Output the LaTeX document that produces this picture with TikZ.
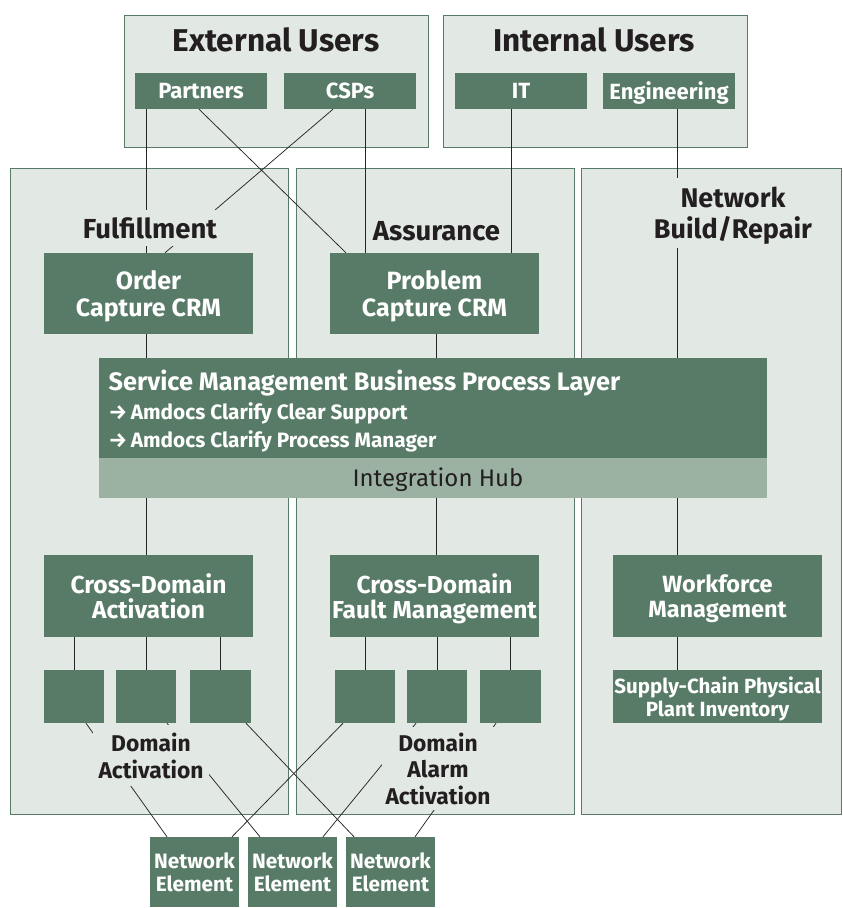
\documentclass[tikz,border=0pt]{standalone}
\usepackage{fontspec}
\setmainfont{Fira Sans}
\definecolor{boxg}{RGB}{88,123,103}
\definecolor{panelf}{RGB}{226,232,228}
\definecolor{hubf}{RGB}{155,178,163}
\definecolor{ink}{RGB}{35,31,32}
\begin{document}
\begin{tikzpicture}[x=1pt,y=-1pt,
  panel/.style={draw=boxg, line width=0.9pt, fill=panelf, inner sep=0pt},
  gbox/.style={fill=boxg, text=white, inner sep=0pt, align=center, text depth=0pt,
    font=\bfseries\fontsize{22}{26}\selectfont},
  title/.style={text=ink, inner sep=0pt, font=\bfseries\fontsize{31.5}{34}\selectfont},
  lbl/.style={fill=panelf, text=ink, inner xsep=5pt, inner ysep=8pt, align=center, text depth=0pt,
    font=\bfseries\fontsize{27.5}{31}\selectfont},
  conn/.style={draw=black!85, line width=0.75pt},
  wtext/.style={text=white, inner sep=0pt},
]
\useasboundingbox (0,0) rectangle (843,908);

% panels
\node[panel, minimum width=304pt, minimum height=132pt] (extP) at (276,81) {};
\node[panel, minimum width=304pt, minimum height=132pt] (intP) at (595,81) {};
\node[panel, minimum width=278pt, minimum height=646pt] (fulP) at (149.5,491) {};
\node[panel, minimum width=278pt, minimum height=646pt] (assP) at (435,491) {};
\node[panel, minimum width=260pt, minimum height=646pt] (nbP) at (711.5,491) {};

% titles
\node[title, anchor=base] (extT) at (276,51) {External Users};
\node[title, anchor=base] (intT) at (594,51) {Internal Users};

% user boxes
\node[gbox, minimum width=132pt, minimum height=36pt, font=\bfseries\fontsize{22}{24}\selectfont] (partners) at (201,91) {Partners};
\node[gbox, minimum width=132pt, minimum height=36pt, font=\bfseries\fontsize{22}{24}\selectfont] (csps) at (350,91) {CSPs};
\node[gbox, minimum width=132pt, minimum height=36pt, font=\bfseries\fontsize{22}{24}\selectfont] (it) at (521,91) {IT};
\node[gbox, minimum width=132pt, minimum height=36pt, font=\bfseries\fontsize{22}{24}\selectfont] (eng) at (669,91) {Engineering};

% main boxes
\node[gbox, minimum width=209pt, minimum height=81pt, font=\bfseries\fontsize{25}{27}\selectfont] (order) at (148.5,293.5) {Order\\Capture CRM};
\node[gbox, minimum width=209pt, minimum height=81pt, font=\bfseries\fontsize{25}{27}\selectfont] (problem) at (434.5,293.5) {Problem\\Capture CRM};
\node[gbox, minimum width=668pt, minimum height=100pt] (smbpl) at (433,408) {};
\node[fill=hubf, inner sep=0pt, minimum width=668pt, minimum height=40pt] (hub) at (433,478) {};
\node[gbox, minimum width=209pt, minimum height=82pt, font=\bfseries\fontsize{24.5}{25.5}\selectfont] (cda) at (148.5,596) {Cross-Domain\\Activation};
\node[gbox, minimum width=209pt, minimum height=82pt, font=\bfseries\fontsize{24.5}{25.5}\selectfont] (cdfm) at (434.5,596) {Cross-Domain\\Fault Management};
\node[gbox, minimum width=209pt, minimum height=82pt, font=\bfseries\fontsize{23.5}{25.5}\selectfont] (wm) at (717.5,596) {Workforce\\Management};
\node[gbox, minimum width=209pt, minimum height=53pt, font=\bfseries\fontsize{20.5}{23.5}\selectfont] (sc) at (717.5,696.5) {Supply-Chain Physical\\Plant Inventory};

% small domain boxes
\node[gbox, minimum width=60pt, minimum height=53pt] (sa1) at (74,696.5) {};
\node[gbox, minimum width=60pt, minimum height=53pt] (sa2) at (146,696.5) {};
\node[gbox, minimum width=61pt, minimum height=53pt] (sa3) at (220.5,696.5) {};
\node[gbox, minimum width=60pt, minimum height=53pt] (sb1) at (365,696.5) {};
\node[gbox, minimum width=60pt, minimum height=53pt] (sb2) at (437,696.5) {};
\node[gbox, minimum width=61pt, minimum height=53pt] (sb3) at (510.5,696.5) {};

% network elements
\node[gbox, minimum width=89pt, minimum height=70pt, font=\bfseries\fontsize{20.8}{23}\selectfont] (ne1) at (194.5,872) {Network\\Element};
\node[gbox, minimum width=89pt, minimum height=70pt, font=\bfseries\fontsize{20.8}{23}\selectfont] (ne2) at (292.5,872) {Network\\Element};
\node[gbox, minimum width=89pt, minimum height=70pt, font=\bfseries\fontsize{20.8}{23}\selectfont] (ne3) at (390.5,872) {Network\\Element};

% SMBPL and hub text
\node[wtext, anchor=base west, font=\bfseries\fontsize{25.3}{28}\selectfont] (smT) at (108.5,390) {Service Management Business Process Layer};
\node[wtext, anchor=base west, font=\bfseries\fontsize{20.8}{24}\selectfont] (smA) at (108.5,419) {→\,Amdocs Clarify Clear Support};
\node[wtext, anchor=base west, font=\bfseries\fontsize{20.8}{24}\selectfont] (smB) at (108.5,447) {→\,Amdocs Clarify Process Manager};
\node[text=ink, inner sep=0pt, anchor=base, font=\fontsize{24}{26}\selectfont] (hubT) at (438,486) {Integration Hub};

% column coordinates
\coordinate (c146) at (146,0);
\coordinate (c365) at (365,0);
\coordinate (c511) at (511,0);
\coordinate (c436) at (436,0);
\coordinate (c677) at (677,0);
\coordinate (x199) at (199,0);
\coordinate (x346) at (346,0);
\coordinate (x333) at (333,0);
\coordinate (x165) at (165,0);
\coordinate (x86) at (86,0);
\coordinate (x167) at (167,0);
\coordinate (x260) at (260,0);
\coordinate (x246) at (246,0);
\coordinate (x354) at (354,0);
\coordinate (x343) at (343,0);
\coordinate (x232) at (232,0);
\coordinate (x416) at (416,0);
\coordinate (x323) at (323,0);
\coordinate (x496) at (496,0);
\coordinate (x415) at (415,0);

% connectors
\draw[conn] (partners.south -| c146) -- (order.north -| c146);
\draw[conn] (csps.south -| c365) -- (problem.north -| c365);
\draw[conn] (it.south -| c511) -- (problem.north -| c511);
\draw[conn] (eng.south -| c677) -- (smbpl.north -| c677);
\draw[conn] (order.south -| c146) -- (smbpl.north -| c146);
\draw[conn] (problem.south -| c436) -- (smbpl.north -| c436);
\draw[conn] (hub.south -| c146) -- (cda.north -| c146);
\draw[conn] (hub.south -| c436) -- (cdfm.north -| c436);
\draw[conn] (hub.south -| c677) -- (wm.north -| c677);
\draw[conn] (wm.south -| c677) -- (sc.north -| c677);
\draw[conn] (cda.south -| sa1) -- (sa1.north);
\draw[conn] (cda.south -| sa2) -- (sa2.north);
\draw[conn] (cda.south -| sa3) -- (sa3.north);
\draw[conn] (cdfm.south -| sb1) -- (sb1.north);
\draw[conn] (cdfm.south -| sb2) -- (sb2.north);
\draw[conn] (cdfm.south -| sb3) -- (sb3.north);

\draw[conn] (partners.south -| x199) -- (problem.north -| x346);
\draw[conn] (csps.south -| x333) -- (order.north -| x165);
\draw[conn] (sa1.south -| x86) -- (ne1.north -| x167);
\draw[conn] (sa2.south -| x167) -- (ne2.north -| x260);
\draw[conn] (sa3.south -| x246) -- (ne3.north -| x354);
\draw[conn] (sb1.south -| x343) -- (ne1.north -| x232);
\draw[conn] (sb2.south -| x416) -- (ne2.north -| x323);
\draw[conn] (sb3.south -| x496) -- (ne3.north -| x415);

% section labels (break the lines)
\node[lbl] (fulL) at (150,228) {Fulfillment};
\node[lbl, inner xsep=3pt] (assL) at (436.5,231) {Assurance};
\node[lbl, inner ysep=9pt, font=\bfseries\fontsize{27}{31}\selectfont] (nbL) at (733,213) {Network\\Build/Repair};
\node[lbl, inner xsep=6pt, font=\bfseries\fontsize{22.8}{27}\selectfont] (daL) at (151,755.5) {Domain\\Activation};
\node[lbl, inner xsep=4pt, inner ysep=6pt, font=\bfseries\fontsize{22.8}{26.5}\selectfont] (dalL) at (438,768.5) {Domain\\Alarm\\Activation};
\end{tikzpicture}
\end{document}
